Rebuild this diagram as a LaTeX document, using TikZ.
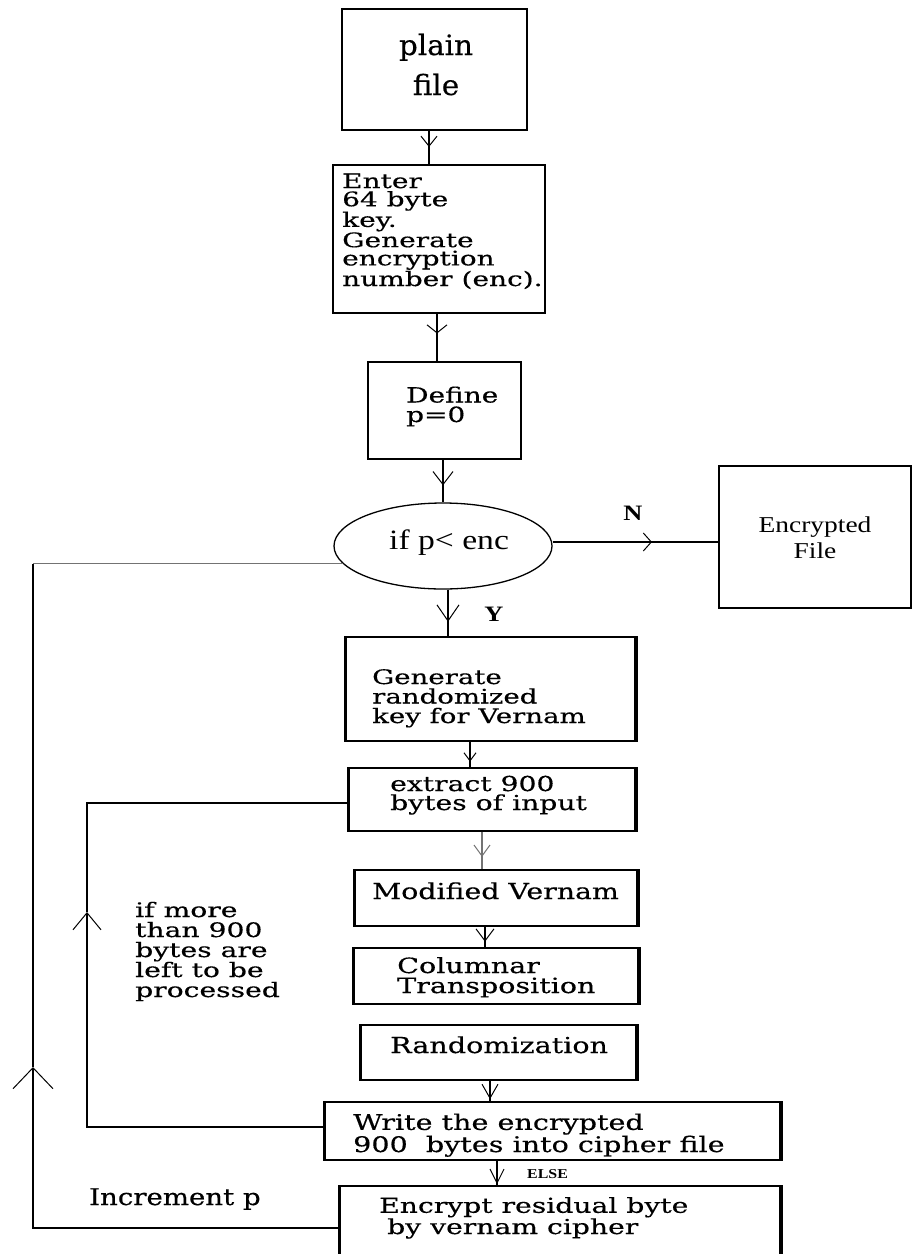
\documentclass[tikz,border=0pt]{standalone}
\usepackage{fontspec}
\setmainfont{DejaVu Serif}
\newfontfamily\tms{Liberation Serif}
\usetikzlibrary{arrows.meta,decorations.markings,shapes.geometric}
\newcommand\fnt[3]{\addfontfeatures{FakeStretch=#3,FakeBold=0.4}\fontsize{#1}{#2}\selectfont}
\newcommand\fnts[3]{\addfontfeatures{FakeStretch=#3}\fontsize{#1}{#2}\selectfont}
\tikzset{
  box/.style={draw, rectangle, line width=1.6pt, inner sep=0pt},
  side/.style={line width=3.4pt},
  txt/.style={inner sep=0pt, anchor=base west, align=left},
  ctxt/.style={inner sep=0pt, anchor=base, align=center},
  conn/.style={draw, line width=1.2pt},
  midarr/.style 2 args={postaction={decorate, decoration={markings,
      mark=at position #1 with {\arrow[line width=1pt]{Straight Barb[#2]}}}}},
}
\begin{document}
\begin{tikzpicture}[x=1pt,y=-1pt]
\useasboundingbox (0,0) rectangle (913,1254);
\fill[white] (0,0) rectangle (913,1254);

% boxes
\node[box, minimum width=185pt, minimum height=121pt] (plain) at (434.5,69.5) {};
\node[box, line width=2.4pt, minimum width=212pt, minimum height=148pt] (enter) at (439,239) {};
\node[box, minimum width=153pt, minimum height=97pt] (define) at (444.5,410.5) {};
\node[draw, ellipse, line width=1.3pt, minimum width=218pt, minimum height=86pt, inner sep=0pt] (ellip) at (443,546) {};
\node[box, minimum width=192pt, minimum height=142pt] (encfile) at (815,537) {};
\node[box, minimum width=289pt, minimum height=104pt] (gen) at (490.5,689) {};
\node[box, minimum width=286pt, minimum height=63pt] (extract) at (492,799.5) {};
\node[box, minimum width=282pt, minimum height=56pt] (modified) at (496,898) {};
\node[box, minimum width=284pt, minimum height=56pt] (columnar) at (496,976) {};
\node[box, minimum width=275pt, minimum height=55pt] (random) at (498.5,1052.5) {};
\node[box, minimum width=455pt, minimum height=58pt] (write) at (552.5,1131) {};
\node[box, minimum width=440pt, minimum height=72pt] (encrypt) at (560,1222) {};

% thicker vertical sides
\foreach \b in {gen,extract,modified,columnar,random,write,encrypt}{
  \draw[side] (\b.north west) -- (\b.south west) (\b.north east) -- (\b.south east);
}

% texts (multi-line nodes are anchored on their last baseline)
\node[ctxt, font={\fnt{28}{40}{1.05}}] (tplain) at (436,95) {plain\\file};
\node[txt, font={\fnt{20}{18.2}{1.4}}] (tenter) at (342,286) {Enter\\64 byte\\key.\\Generate\\encryption\\number (enc).};
\node[txt, font={\fnt{21}{19.5}{1.33}}] (tdef) at (406,422) {Define\\p=0};
\node[txt, font={\tms\fnts{28}{30}{1.2}}] (tif) at (389,549) {if p< enc};
\node[ctxt, font={\tms\bfseries\fnts{22}{26}{1.2}}] (tN) at (633,520) {N};
\node[ctxt, font={\tms\fnts{22.7}{26}{1.21}}] (tenc) at (815,558) {Encrypted\\File};
\node[ctxt, font={\tms\bfseries\fnts{22}{26}{1.2}}] (tY) at (494,621) {Y};
\node[txt, font={\fnt{20}{19.5}{1.38}}] (tgen) at (372,723) {Generate\\randomized\\key for Vernam};
\node[txt, font={\fnt{20.6}{19}{1.37}}] (textr) at (390,810) {extract 900\\bytes of input};
\node[txt, font={\fnt{22}{20}{1.29}}] (tmod) at (372,899) {Modified Vernam};
\node[txt, font={\fnt{21}{20}{1.36}}] (tcol) at (397,993) {Columnar\\Transposition};
\node[txt, font={\fnt{22}{20}{1.3}}] (tran) at (390,1053) {Randomization};
\node[txt, font={\fnt{21.5}{20}{1.33}}] (twr) at (353,1152) {Write the encrypted\\900\ \ bytes into cipher file};
\node[txt, font={\fnt{20.6}{19}{1.37}}] (tencr) at (379,1234) {Encrypt residual byte\\\hspace*{8pt}by vernam cipher};
\node[txt, font={\fnt{23}{20}{1.2}}] (tinc) at (89,1205) {Increment p};
\node[txt, font={\fnt{20}{20}{1.41}}] (tmore) at (135,997) {if more\\than 900\\bytes are\\left to be\\processed};
\node[txt, font={\tms\bfseries\fnts{13.6}{14}{1.17}}] (telse) at (527,1178) {ELSE};

% connectors
\draw[conn, midarr={0.49}{length=10pt,width=16pt}] ([xshift=-5.5pt]plain.south) -- ([xshift=-10pt]enter.north);
\draw[conn, line width=1.6pt, midarr={0.41}{length=8pt,width=20pt}] ([xshift=-2pt]enter.south) -- ([xshift=-7.5pt]define.north);
\draw[conn, midarr={0.6}{length=13pt,width=20pt}] ([xshift=-1.5pt]define.south) -- (ellip.north);
\draw[conn, line width=1.8pt, midarr={0.69}{length=16pt,width=22pt}] ([xshift=5pt]ellip.south) -- ([xshift=-42.5pt]gen.north);
\draw[conn, midarr={0.78}{length=8pt,width=12pt}] ([xshift=-20.5pt]gen.south) -- ([xshift=-22pt]extract.north);
\draw[conn, draw=black!55, line width=1.5pt, midarr={0.67}{length=11pt,width=16pt}] ([xshift=-10pt]extract.south) -- ([xshift=-14pt]modified.north);
\draw[conn, line width=1.6pt, midarr={0.73}{length=12pt,width=18pt}] ([xshift=-11pt]modified.south) -- ([xshift=-11pt]columnar.north);
\draw[conn, midarr={0.9}{length=14pt,width=16pt}] ([xshift=-8.5pt]random.south) -- ([xshift=-62.5pt]write.north);
\draw[conn, midarr={0.96}{length=14pt,width=14pt}] ([xshift=-55.5pt]write.south) -- ([xshift=-63pt]encrypt.north);
\draw[conn, line width=1.8pt, midarr={0.6}{length=8pt,width=18pt}] ([yshift=4pt]ellip.east) -- ([yshift=4pt]ellip.east -| encfile.west);

% inner loop
\coordinate (innerL) at (87,912);
\draw[conn, -{Straight Barb[length=17pt,width=28pt,line width=1pt]}] ([yshift=4pt]write.west) -| (innerL);
\draw[conn] (innerL) |- ([yshift=-3.5pt]extract.west);

% outer loop
\coordinate (outerL) at (33,1067);
\coordinate (outerTop) at (outerL |- ellip.190);
\draw[conn, line width=1.8pt, -{Straight Barb[length=21pt,width=40pt,line width=1pt]}] ([yshift=-6pt]encrypt.west) -| (outerL);
\draw[conn, line width=1.8pt] (outerL) -- (outerTop);
\draw[conn, draw=black!55, line width=1pt] (outerTop) -- (ellip.190);
\end{tikzpicture}
\end{document}
